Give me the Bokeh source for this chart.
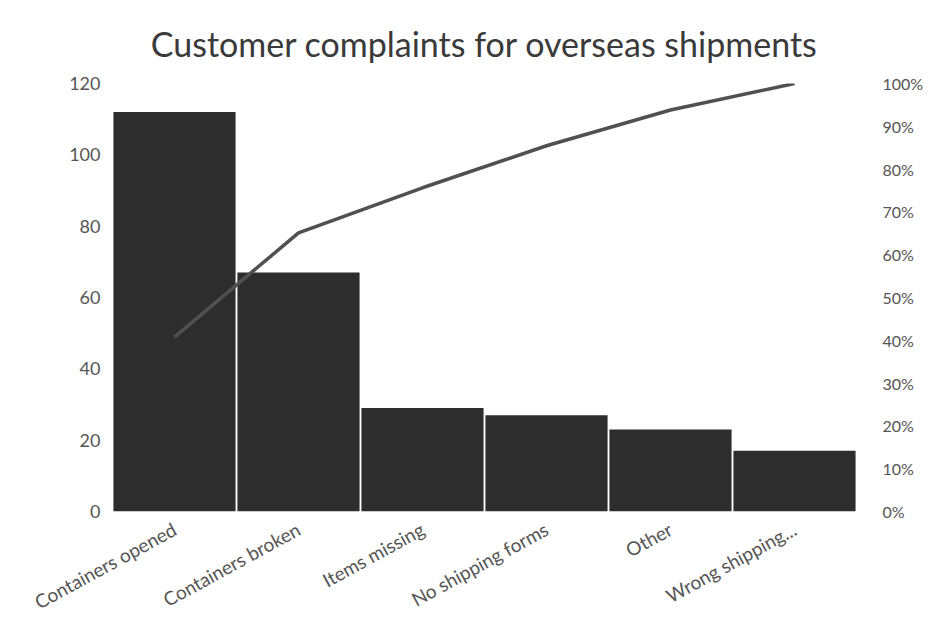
from bokeh.plotting import figure
from bokeh.models import Range1d, LinearAxis, FixedTicker, NumeralTickFormatter, ColumnDataSource, FactorRange
from bokeh.embed import file_html
from bokeh.resources import INLINE

title_text = "Customer complaints for overseas shipments"
categories = ["Containers opened", "Containers broken", "Items missing",
              "No shipping forms", "Other", "Wrong shipping..."]
complaints = [112, 67, 29, 27, 23, 17]
y_max = 120

total = sum(complaints)
cum = []
s = 0
for v in complaints:
    s += v
    cum.append(s / total)

FONT = "Lato"

p = figure(width=936, height=643, x_range=FactorRange(*categories, range_padding=0),
           y_range=Range1d(0, y_max), output_backend="svg", toolbar_location=None,
           min_border_left=112, min_border_right=80, min_border_bottom=132, min_border_top=81)
p.title.text = title_text
p.title.align = "center"
p.title.text_font = FONT
p.title.text_font_size = "34px"
p.title.text_font_style = "normal"
p.title.text_color = "#3a3a3a"
p.title.text_line_height = 0.7
p.title.standoff = 40
p.outline_line_color = None
p.grid.visible = False

src = ColumnDataSource(dict(cat=categories, val=complaints, cum=cum))
p.vbar(x="cat", top="val", width=0.985, source=src, fill_color="#2d2d2d", line_color=None)

p.extra_y_ranges = {"pct": Range1d(0, 1)}
p.line(x="cat", y="cum", source=src, y_range_name="pct", line_color="#505050", line_width=3.5)

ax = p.yaxis[0]
ax.ticker = FixedTicker(ticks=[0, 20, 40, 60, 80, 100, 120])
ax.axis_line_color = None
ax.major_tick_line_color = None
ax.minor_tick_line_color = None
ax.major_label_text_font = FONT
ax.major_label_text_font_size = "18px"
ax.major_label_text_color = "#555555"
ax.major_label_standoff = 6

rax = LinearAxis(y_range_name="pct")
rax.ticker = FixedTicker(ticks=[i / 10 for i in range(11)])
rax.formatter = NumeralTickFormatter(format="0%")
rax.axis_line_color = None
rax.major_tick_line_color = None
rax.minor_tick_line_color = None
rax.major_label_text_font = FONT
rax.major_label_text_font_size = "16px"
rax.major_label_text_color = "#555555"
rax.major_label_standoff = 20
p.add_layout(rax, "right")

xa = p.xaxis[0]
xa.axis_line_color = None
xa.major_tick_line_color = None
xa.minor_tick_line_color = None
xa.major_label_orientation = 0.5
xa.major_label_text_font = FONT
xa.major_label_text_font_size = "19px"
xa.major_label_text_color = "#555555"
xa.major_label_standoff = 10

open("out.html", "w").write(file_html(p, INLINE))
